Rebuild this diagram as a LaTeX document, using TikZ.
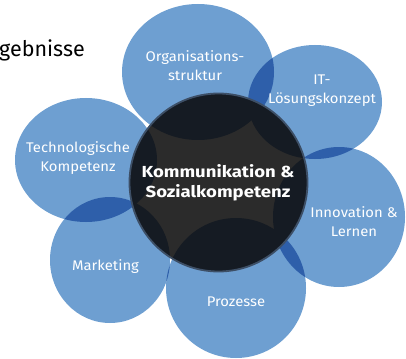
\documentclass[tikz,border=0pt]{standalone}
\usepackage{fontspec}
\setmainfont{Fira Sans}
\definecolor{blob}{HTML}{6E9FD1}
\definecolor{overlap}{HTML}{2E5FAA}
\definecolor{coreout}{HTML}{2B2B2B}
\definecolor{corein}{HTML}{151B23}
\definecolor{ring}{HTML}{3D4F66}
\begin{document}
\begin{tikzpicture}[x=1pt,y=-1pt,
  lbl/.style={text=white,align=center,inner sep=0pt,font=\fontsize{14}{19}\selectfont\addfontfeatures{FakeStretch=1.06}},
  corelbl/.style={text=white,align=center,inner sep=0pt,font=\fontsize{16}{20.5}\selectfont\bfseries\addfontfeatures{FakeStretch=1.16}}]
\useasboundingbox (0,0) rectangle (406,358);
\def\org{(198,72) ellipse [x radius=76,y radius=68]}
\def\itb{(315,102) ellipse [x radius=67,y radius=57]}
\def\inn{(339,217) ellipse [x radius=66,y radius=70]}
\def\proz{(236,288) ellipse [x radius=70,y radius=70]}
\def\mark{(110,260) ellipse [x radius=60,y radius=63]}
\def\tech{(86,160) ellipse [x radius=71,y radius=62]}
% blobs
\foreach \b in {\org,\itb,\inn,\proz,\mark,\tech}{\fill[blob] \b;}
% overlaps
\begin{scope}\clip \org; \fill[overlap] \itb; \fill[overlap] \tech; \end{scope}
\begin{scope}\clip \itb; \fill[overlap] \inn; \end{scope}
\begin{scope}\clip \inn; \fill[overlap] \proz; \end{scope}
\begin{scope}\clip \proz; \fill[overlap] \mark; \end{scope}
\begin{scope}\clip \mark; \fill[overlap] \tech; \end{scope}
% core
\fill[coreout] (218.5,182.5) circle (89);
\begin{scope}
\clip (218.5,182.5) circle (89);
\foreach \b in {\org,\itb,\inn,\proz,\mark,\tech}{\fill[corein] \b;}
\end{scope}
\draw[ring,line width=1.8pt] (218.5,182.5) circle (89);
% labels
\node[lbl] (o) at (195,66) {Organisations-\\struktur};
\node[lbl] (i) at (322,91) {IT-\\Lösungskonzept};
\node[lbl] (n) at (354,222) {Innovation \&\\Lernen};
\node[lbl] (p) at (236,302) {Prozesse};
\node[lbl] (m) at (105.5,267) {Marketing};
\node[lbl] (t) at (78,158) {Technologische\\Kompetenz};
\node[corelbl] (c) at (218,183) {Kommunikation \&\\Sozialkompetenz};
\node[anchor=west,inner sep=0pt,font=\fontsize{21.5}{26}\selectfont] (g) at (-1,50) {gebnisse};
\end{tikzpicture}
\end{document}
